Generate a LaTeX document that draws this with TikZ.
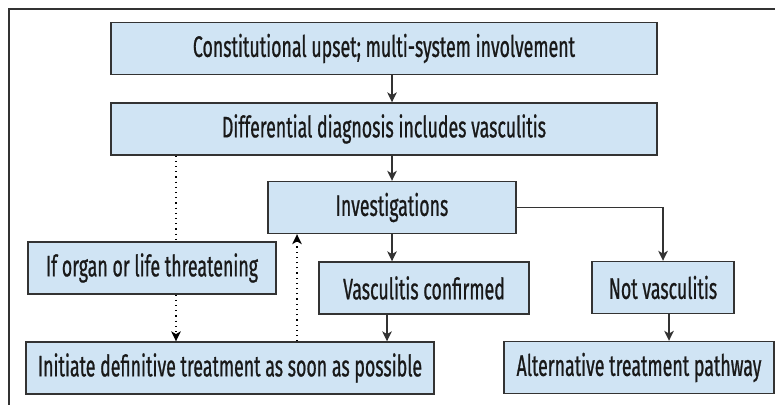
\documentclass[tikz,border=0pt]{standalone}
\usepackage{fontspec}
\setmainfont{Fira Sans}[FakeStretch=0.6, FakeBold=0.7]
\usetikzlibrary{arrows.meta}
\definecolor{paleblue}{HTML}{D0E4F4}
\definecolor{inkgrey}{HTML}{333333}
\tikzset{
  box/.style={draw=inkgrey, fill=paleblue, line width=0.7pt, minimum height=26pt,
    inner sep=0pt, text=black!90, font=\fontsize{14.8}{16}\selectfont},
  flow/.style={-{Stealth[length=5pt, width=4.8pt, inset=1.4pt]}, draw=inkgrey, line width=0.6pt},
  maybe/.style={-{Stealth[length=5pt, width=4.8pt, inset=1.4pt]}, draw=black, dotted, line width=0.6pt}
}

\begin{document}
\begin{tikzpicture}[x=0.5pt, y=-0.5pt]
        \useasboundingbox (0,0) rectangle (775,405);

        % Frame
        \draw[inkgrey, line width=0.7pt] (9,405)--(9,9)--(775,9);

        % Boxes
        \node[box, minimum width=273pt] (upset) at (384,48.5)
          {Constitutional upset; multi-system involvement};
        \node[box, minimum width=273pt] (diagnosis) at (384,129)
          {Differential diagnosis includes vasculitis};
        \node[box, minimum width=124pt] (invest) at (392,207.5) {Investigations};
        \node[box, minimum width=124pt] (threat) at (152,268)
          {If organ or life threatening};
        \node[box, minimum width=105pt] (confirmed) at (424,288) {Vasculitis confirmed};
        \node[box, minimum width=204pt] (initiate) at (230,368)
          {Initiate definitive treatment as soon as possible};
        \node[box, minimum width=71pt] (notvasc) at (663,287.5) {Not vasculitis};
        \node[box, minimum width=135pt] (altpath) at (639,367.5)
          {Alternative treatment pathway};

        % Columns for the dotted lines
        \coordinate (urgent) at (176,0);
        \coordinate (back) at (297,0);

        % Main path
        \draw[flow] (upset.south -| invest) -- (diagnosis.north -| invest);
        \draw[flow] (diagnosis.south -| invest) -- (invest.north);
        \draw[flow] (invest.south) -- (confirmed.north -| invest);
        \draw[flow] ([xshift=-2.5pt]invest.south |- confirmed.south)
          -- ([xshift=-2.5pt]invest.south |- initiate.north);
        \draw[flow] (invest.east) -| (notvasc.north);
        \draw[flow] ([xshift=3pt]notvasc.south) -- ([xshift=3pt]notvasc.south |- altpath.north);

        % Urgent path
        \draw[dotted, line width=0.6pt] (diagnosis.south -| urgent) -- (threat.north -| urgent);
        \draw[maybe] (threat.south -| urgent) -- (initiate.north -| urgent);
        \draw[maybe] (initiate.north -| back) -- (invest.south -| back);

\end{tikzpicture}
\end{document}
